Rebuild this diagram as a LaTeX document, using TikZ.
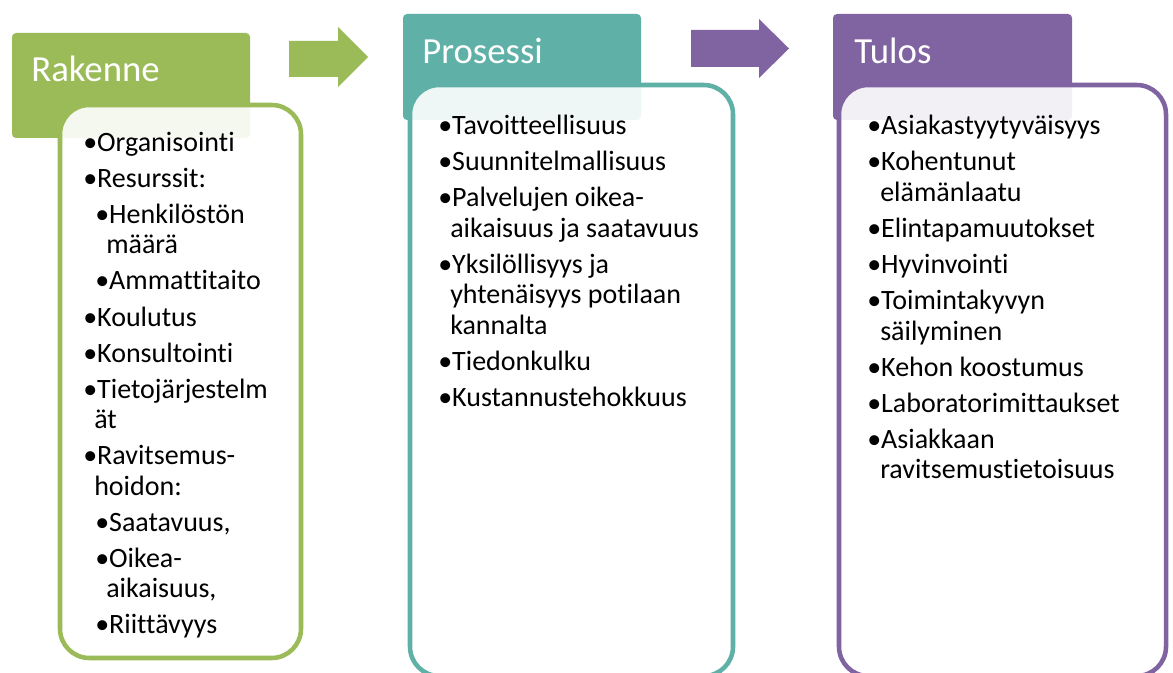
\documentclass[tikz,border=0pt]{standalone}
\usepackage{fontspec}
\setmainfont{Carlito}[Ligatures=NoCommon]
\definecolor{cgreen}{HTML}{9BBB59}
\definecolor{cteal}{HTML}{5FB0A6}
\definecolor{cpurple}{HTML}{8064A2}
\begin{document}
\begin{tikzpicture}[x=0.75pt,y=-0.75pt,
  header/.style={rounded corners=3pt},
  panel/.style={line width=3.4pt, rounded corners=22pt, fill=white, fill opacity=0.9},
  title/.style={anchor=base west, inner sep=0pt, text=white, font=\fontsize{27.6}{32}\selectfont},
  item/.style={anchor=base west, inner sep=0pt, font=\fontsize{21}{24}\selectfont}]
\useasboundingbox (0,0) rectangle (1173,673);
\clip (0,0) rectangle (1173,673);
\fill[white] (0,0) rectangle (1173,673);
% headers
\fill[cgreen, header] (12,33) rectangle (250,138);
\fill[cteal, header] (403,14) rectangle (641,120);
\fill[cpurple, header] (833,14) rectangle (1072,120);
% arrows
\fill[cgreen] (289,41) -- (338,41) -- (338,27) -- (368,57) -- (338,87) -- (338,77) -- (289,77) -- cycle;
\fill[cpurple] (691,30) -- (759,30) -- (759,19) -- (789,48.5) -- (759,78) -- (759,67) -- (691,67) -- cycle;
% panels
\draw[panel, draw=cgreen] (60,105) rectangle (301,658);
\draw[panel, draw=cteal] (410,85) rectangle (733,676);
\draw[panel, draw=cpurple] (839,85) rectangle (1166,676);
% titles
\node[title] (t1) at (31,82) {Rakenne};
\node[title] (t2) at (422,64) {Prosessi};
\node[title] (t3) at (854,64) {Tulos};
% green items
\foreach \n/\x/\y/\t in {
  g1/83/151.5/{•Organisointi},
  g2/83/187.5/{•Resurssit:},
  g3/95/223.5/{•Henkilöstön},
  g4/106/254/{määrä},
  g5/95/290/{•Ammattitaito},
  g6/83/326/{•Koulutus},
  g7/83/362/{•Konsultointi},
  g8/83/398/{•Tietojärjestelm},
  g9/94/428.5/{ät},
  g10/83/464.5/{•Ravitsemus-},
  g11/94/495/{hoidon:},
  g12/95/531/{•Saatavuus,},
  g13/95/567/{•Oikea-},
  g14/106/597.5/{aikaisuus,},
  g15/95/633.5/{•Riittävyys}}
  \node[item] (\n) at (\x,\y) {\t};
% teal items
\foreach \n/\x/\y/\t in {
  p1/438/135/{•Tavoitteellisuus},
  p2/438/171/{•Suunnitelmallisuus},
  p3/438/207/{•Palvelujen oikea-},
  p4/450/237.5/{aikaisuus ja saatavuus},
  p5/438/273.5/{•Yksilöllisyys ja},
  p6/450/304/{yhtenäisyys potilaan},
  p7/450/334.5/{kannalta},
  p8/438/370.5/{•Tiedonkulku},
  p9/438/406.5/{•Kustannustehokkuus}}
  \node[item] (\n) at (\x,\y) {\t};
% purple items
\foreach \n/\x/\y/\t in {
  r1/867/135/{•Asiakastyytyväisyys},
  r2/867/171/{•Kohentunut},
  r3/880/201.5/{elämänlaatu},
  r4/867/237.5/{•Elintapamuutokset},
  r5/867/273.5/{•Hyvinvointi},
  r6/867/309.5/{•Toimintakyvyn},
  r7/880/340/{säilyminen},
  r8/867/376/{•Kehon koostumus},
  r9/867/412/{•Laboratorimittaukset},
  r10/867/448/{•Asiakkaan},
  r11/880/478.5/{ravitsemustietoisuus}}
  \node[item] (\n) at (\x,\y) {\t};
\end{tikzpicture}
\end{document}
